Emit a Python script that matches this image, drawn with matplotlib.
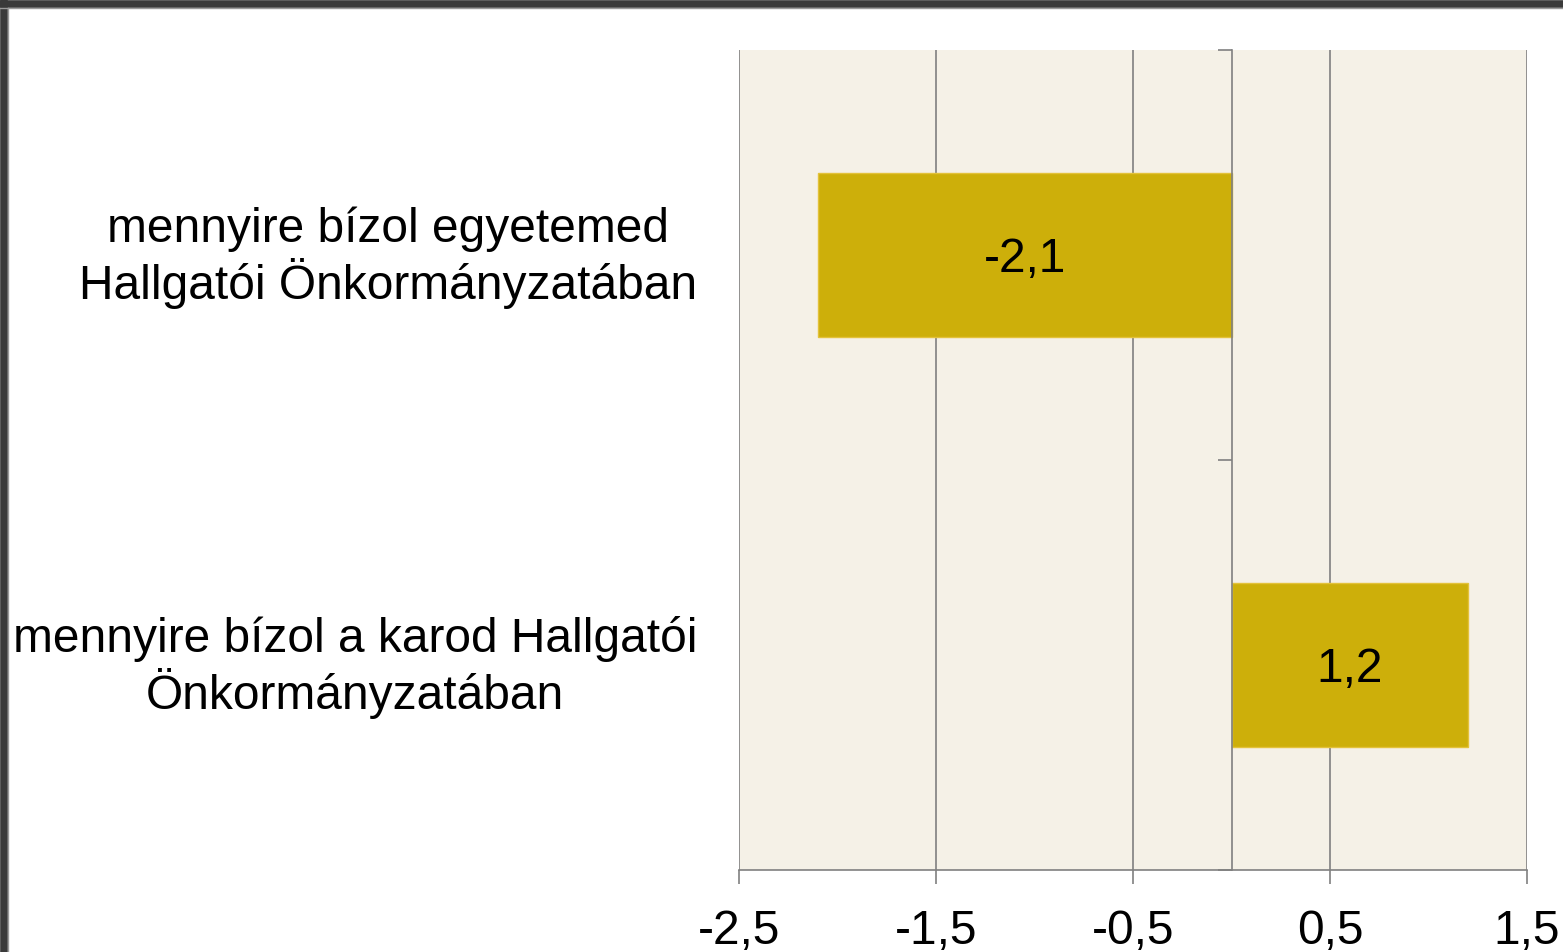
import numpy as np
import matplotlib.pyplot as plt
from matplotlib.lines import Line2D

categories = ['mennyire bízol egyetemed\nHallgatói Önkormányzatában',
              'mennyire bízol a karod Hallgatói\nÖnkormányzatában']
values = [-2.1, 1.2]
xticks = [-2.5, -1.5, -0.5, 0.5, 1.5]

plt.rcParams['font.family'] = ['Liberation Sans', 'DejaVu Sans']

bar_col = '#CDAF0A'
grid_col = '#808080'
fs = 34.5

fig = plt.figure(figsize=(15.63, 9.52), dpi=100)
ax = fig.add_axes([739/1563, 1-870/952, (1527-739)/1563, (870-50)/952])
ax.set_facecolor('#F5F1E7')

y = np.arange(len(categories))
ax.barh(y, values, height=0.4, color=bar_col, edgecolor='#E3C23A', linewidth=1, zorder=3)

for yi, v in zip(y, values):
    ax.annotate(('%.1f' % v).replace('.', ','), xy=(v/2, yi), xytext=(0, -3),
                textcoords='offset points', ha='center', va='center',
                fontsize=fs, zorder=4)

for yi, lab in zip(y, categories):
    ax.annotate(lab, xy=(0, yi), xycoords=('axes fraction', 'data'),
                xytext=(-30, -2), textcoords='offset points',
                ha='right', va='center', multialignment='center',
                fontsize=fs, linespacing=1.15)

ax.set_xlim(-2.5, 1.5)
ax.set_ylim(1.5, -0.5)
ax.set_xticks(xticks)
ax.set_xticklabels([('%.1f' % t).replace('.', ',') for t in xticks], fontsize=fs)
ax.tick_params(axis='x', length=10, width=1.2, color=grid_col, pad=18)
ax.xaxis.grid(True, color=grid_col, linewidth=1.2, zorder=1)
ax.set_axisbelow(True)

ax.set_yticks([-0.5, 0.5, 1.5])
ax.set_yticklabels([])
ax.tick_params(axis='y', length=10, width=1.2, color=grid_col, direction='out')

ax.spines['left'].set_position(('data', 0))
ax.spines['left'].set_color(grid_col)
ax.spines['left'].set_linewidth(1.2)
ax.spines['left'].set_zorder(5)
ax.spines['bottom'].set_color(grid_col)
ax.spines['bottom'].set_linewidth(1.2)
ax.spines['top'].set_visible(False)
ax.spines['right'].set_visible(False)

# dark frame at top and left
fig.add_artist(Line2D([0, 1], [1-3.5/952, 1-3.5/952], color='#3a3a3a', linewidth=5.5))
fig.add_artist(Line2D([3.5/1563, 3.5/1563], [0, 1], color='#3a3a3a', linewidth=5.5))
fig.add_artist(Line2D([0, 1], [1-8/952, 1-8/952], color='#9a9a9a', linewidth=1))
fig.add_artist(Line2D([8/1563, 8/1563], [0, 1-8/952], color='#9a9a9a', linewidth=1))

fig.savefig('out.png', dpi=100)
